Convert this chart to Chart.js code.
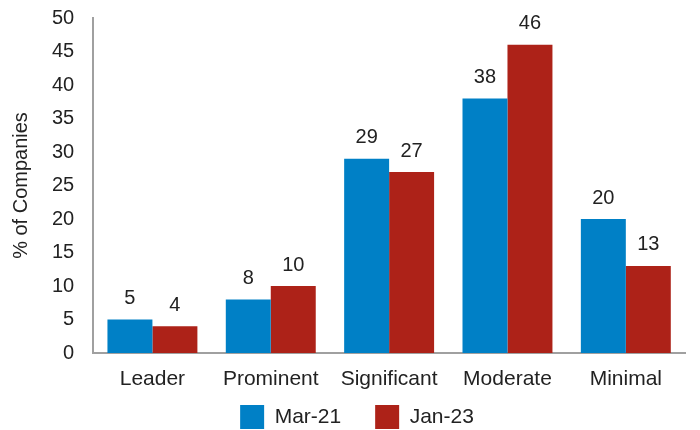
<!DOCTYPE html>
<html><head><meta charset="utf-8">
<script src="https://cdn.jsdelivr.net/npm/chart.js@4/dist/chart.umd.min.js"></script>
<style>html,body{margin:0;padding:0;background:#fff}#wrap{width:700px;height:430px}</style>
</head><body><div id="wrap"><canvas id="c" width="700" height="430"></canvas></div>
<script>
const categories = ["Leader","Prominent","Significant","Moderate","Minimal"];
const mar21 = [5, 8, 29, 38, 20];
const jan23 = [4, 10, 27, 46, 13];
const seriesNames = ["Mar-21","Jan-23"];
const yTicks = [0,5,10,15,20,25,30,35,40,45,50];

const FONT = '"Liberation Sans", Arial, sans-serif';
const labelPlugin = {
  id: 'vals',
  afterLayout(chart) {
    if (chart.legend) chart.legend.left += 22;
  },
  afterDatasetsDraw(chart) {
    const ctx = chart.ctx;
    ctx.save();
    ctx.font = '20px ' + FONT;
    ctx.fillStyle = '#222';
    ctx.textAlign = 'center';
    ctx.textBaseline = 'bottom';
    chart.data.datasets.forEach((ds, i) => {
      chart.getDatasetMeta(i).data.forEach((bar, j) => {
        ctx.fillText(String(ds.data[j]), bar.x, bar.y - 11);
      });
    });
    ctx.restore();
  }
};

new Chart(document.getElementById('c'), {
  type: 'bar',
  data: {
    labels: categories,
    datasets: [
      {label: seriesNames[0], data: mar21, backgroundColor: '#0080C6'},
      {label: seriesNames[1], data: jan23, backgroundColor: '#AD2218'}
    ]
  },
  options: {
    responsive: false,
    animation: false,
    layout: {padding: {left: 7, right: 15, top: 0, bottom: 0}},
    datasets: {bar: {categoryPercentage: 0.76, barPercentage: 1.0}},
    plugins: {
      legend: {
        position: 'bottom',
        maxHeight: 59,
        labels: {
          font: {size: 21, family: FONT},
          color: '#222',
          boxWidth: 24, boxHeight: 24, padding: 34
        }
      },
      tooltip: {enabled: false}
    },
    scales: {
      x: {
        grid: {display: false, drawTicks: false},
        border: {color: '#A0A0A0', width: 2},
        ticks: {font: {size: 21, family: FONT}, color: '#222', padding: 14},
        afterFit(scale) { scale.height = 18; scale._computeLabelArea = () => undefined; }
      },
      y: {
        min: 0, max: 50,
        afterBuildTicks(axis) { axis.ticks = yTicks.map(v => ({value: v})); },
        grid: {display: false, drawTicks: false},
        border: {color: '#A0A0A0', width: 2},
        ticks: {font: {size: 20, family: FONT}, color: '#222', padding: 19},
        title: {display: true, text: '% of Companies', font: {size: 20, family: FONT}, color: '#222', padding: {top: 2, bottom: 0}},
        afterFit(scale) { scale.paddingTop = 18; scale.paddingBottom = 12; }
      }
    }
  },
  plugins: [labelPlugin]
});
</script></body></html>
